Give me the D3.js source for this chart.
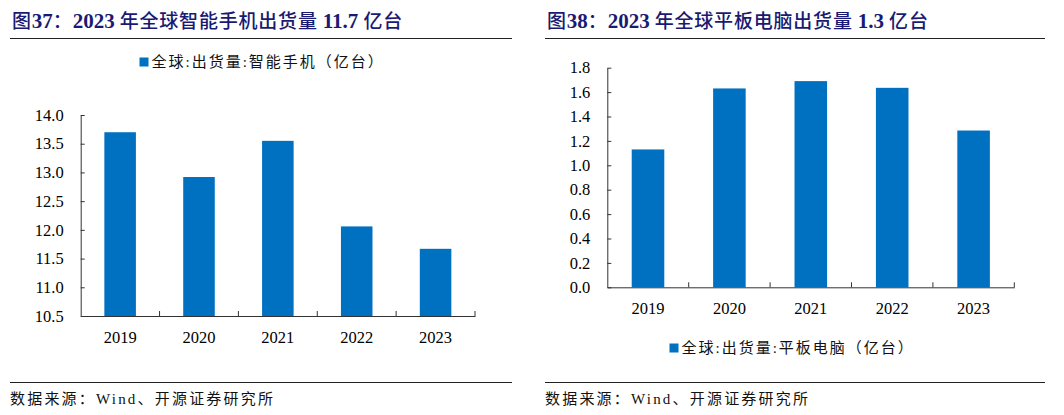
<!DOCTYPE html>
<html><head><meta charset="utf-8">
<script src="https://cdn.jsdelivr.net/npm/d3@7"></script>
<style>
html,body{margin:0;padding:0;background:#fff;}
svg{display:block;}
</style></head>
<body>
<svg id="c" width="1064" height="415"></svg>
<script>
const years = ["2019","2020","2021","2022","2023"];
const phoneValues = [13.70, 12.92, 13.55, 12.06, 11.67];
const tabletValues = [1.13, 1.63, 1.69, 1.635, 1.285];
const phoneTicks = [10.5, 11.0, 11.5, 12.0, 12.5, 13.0, 13.5, 14.0];
const tabletTicks = [0.0, 0.2, 0.4, 0.6, 0.8, 1.0, 1.2, 1.4, 1.6, 1.8];
const phoneTitle = [["图","cjk"],["37","num"],["：","cjk"],["2023","num"],[" 年全球智能手机出货量 ","cjk"],["11.7","num"],[" 亿台","cjk"]];
const tabletTitle = [["图","cjk"],["38","num"],["：","cjk"],["2023","num"],[" 年全球平板电脑出货量 ","cjk"],["1.3","num"],[" 亿台","cjk"]];
const phoneLegend = "全球:出货量:智能手机（亿台）";
const tabletLegend = "全球:出货量:平板电脑（亿台）";
const sourceText = "数据来源：Wind、开源证券研究所";

const BAR = "#0070c0", AX = "#333";
const SERIF = "'Liberation Serif','Times New Roman',serif";
const CJK = "'Noto Sans CJK SC','Liberation Serif',sans-serif";
const MIX = "'Liberation Serif','Noto Sans CJK SC',serif";
const svg = d3.select("#c");

function panel(o){
  const g = svg.append("g");
  const t = g.append("text").attr("x", o.titleX).attr("y", 28).attr("fill", "#1a1a72");
  o.title.forEach(([s, k]) => {
    t.append("tspan").text(s)
      .attr("font-family", k === "num" ? SERIF : CJK)
      .attr("font-weight", k === "num" ? "bold" : 500)
      .attr("letter-spacing", k === "num" ? "0px" : "0.8px")
      .attr("font-size", k === "num" ? 21 : 19);
  });
  g.append("line").attr("x1", o.ruleX1).attr("x2", o.ruleX2).attr("y1", 38.5).attr("y2", 38.5).attr("stroke", "#222").attr("stroke-width", 1.2);
  g.append("line").attr("x1", o.ruleX1).attr("x2", o.ruleX2).attr("y1", 382.5).attr("y2", 382.5).attr("stroke", "#222").attr("stroke-width", 1.2);
  g.append("text").attr("x", o.ruleX1).attr("y", 404).attr("font-family", MIX).attr("font-size", 15)
    .attr("letter-spacing", "2.2px").attr("fill", "#111").text(sourceText);

  const x = d3.scaleBand().domain(years).range([o.x0, o.x1]).paddingInner(0.6).paddingOuter(0.3);
  const y = d3.scaleLinear().domain(o.domain).range([o.yb, o.yt]);

  g.selectAll("rect.bar").data(o.values).join("rect").attr("class", "bar")
    .attr("x", (d, i) => x(years[i])).attr("width", x.bandwidth())
    .attr("y", d => y(d)).attr("height", d => y(o.domain[0]) - y(d)).attr("fill", BAR);

  const ya = g.append("g").attr("transform", `translate(${o.x0},0)`)
    .call(d3.axisLeft(y).tickValues(o.ticks).tickFormat(d3.format(".1f")).tickSize(-4).tickSizeOuter(0).tickPadding(17));
  ya.select(".domain").attr("stroke", AX);
  ya.selectAll(".tick line").attr("stroke", AX);
  ya.selectAll("text").attr("font-family", SERIF).attr("font-size", 16.5).attr("fill", "#000");

  const xa = g.append("g").attr("transform", `translate(0,${o.yb})`)
    .call(d3.axisBottom(x).tickSize(0).tickSizeOuter(0).tickPadding(15));
  xa.select(".domain").attr("stroke", AX);
  xa.selectAll("text").attr("font-family", SERIF).attr("font-size", 16.5).attr("fill", "#000");
  g.selectAll("line.bt").data(years).join("line").attr("class", "bt")
    .attr("x1", d => x(d) + x.bandwidth() + x.step() * 0.3).attr("x2", d => x(d) + x.bandwidth() + x.step() * 0.3)
    .attr("y1", o.yb).attr("y2", o.yb - 5).attr("stroke", AX);

  const lg = g.append("g").attr("transform", `translate(${o.legX},${o.legY})`);
  lg.append("rect").attr("x", 0).attr("y", -4.5).attr("width", 9).attr("height", 9).attr("fill", BAR);
  lg.append("text").attr("x", 12).attr("y", 0).attr("dy", "0.35em").attr("font-family", MIX).attr("font-size", 15)
    .attr("letter-spacing", "2px").attr("fill", "#111").text(o.legend);
}

panel({title: phoneTitle, titleX: 12, ruleX1: 10, ruleX2: 512, x0: 80.7, x1: 475, yb: 316, yt: 115,
  domain: [10.5, 14], ticks: phoneTicks, values: phoneValues, legend: phoneLegend, legX: 139.5, legY: 62});
panel({title: tabletTitle, titleX: 547, ruleX1: 545, ruleX2: 1045, x0: 607.3, x1: 1014.3, yb: 287.3, yt: 67.7,
  domain: [0, 1.8], ticks: tabletTicks, values: tabletValues, legend: tabletLegend, legX: 669.5, legY: 348});
</script>
</body></html>
